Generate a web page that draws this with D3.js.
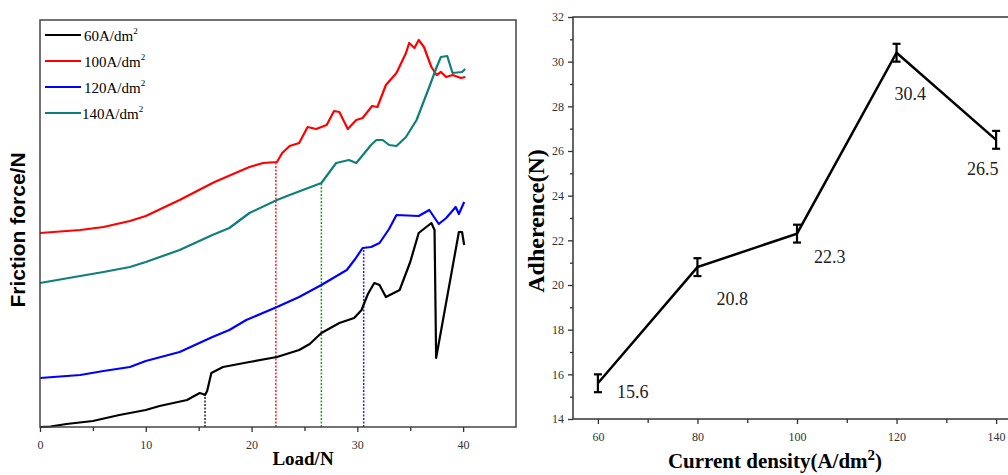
<!DOCTYPE html>
<html>
<head>
<meta charset="utf-8">
<script src="https://cdn.jsdelivr.net/npm/d3@7"></script>
<style>
  body { margin: 0; background: #fff; }
  svg { display: block; }
  .tick text { font-family: "Liberation Serif", "Times New Roman", serif; font-size: 12px; fill: #333; }
  .tick line { stroke: #333; stroke-width: 1.3; }
</style>
</head>
<body>
<svg id="chart" width="1008" height="475"></svg>
<script>
// friction curves: [load (N), friction force (arb.)]
const series60 = [[0,0],[1,0.05],[2.5,0.3],[5,0.6],[7.5,1.2],[10,1.7],[11.3,2.1],[13.9,2.7],[15.1,3.4],[15.4,3.3],[15.6,3.2],[15.8,3.6],[16.2,5.4],[17.3,6.0],[19.8,6.5],[22.4,7.0],[24.5,7.7],[25.5,8.3],[26.6,9.4],[28.3,10.4],[29.7,10.9],[30.4,11.7],[31.0,13.3],[31.6,14.4],[32.1,14.2],[32.7,13.0],[34.0,13.7],[35.0,16.5],[35.8,19.4],[37.0,20.4],[37.3,19.7],[37.45,6.9],[39.6,19.5],[39.9,19.5],[40.1,18.2]];
const series100 = [[0,19.4],[3.8,19.7],[6,20.0],[8.5,20.6],[10,21.1],[13.2,22.7],[16.5,24.5],[19.8,26.0],[21.1,26.4],[22.4,26.5],[22.9,27.4],[23.6,28.1],[24.5,28.4],[25.3,30.0],[26.1,29.8],[27.1,30.2],[27.8,31.6],[28.3,31.5],[29.1,29.8],[29.9,30.7],[30.5,30.9],[31.4,32.1],[31.9,32.0],[32.7,34.2],[33.7,35.4],[34.6,37.4],[34.9,38.4],[35.4,37.9],[35.8,38.7],[36.3,38.0],[37.0,36.0],[37.5,35.2],[37.9,35.5],[38.4,35.0],[39.0,35.2],[39.8,34.9],[40.2,35.0]];
const series120 = [[0,4.9],[3.8,5.2],[6,5.6],[8.5,6.0],[10,6.6],[13.2,7.5],[16.3,9.0],[17.9,9.7],[19.5,10.7],[22.4,12.0],[24.5,13.0],[26.6,14.2],[29.0,15.7],[29.8,16.8],[30.5,17.9],[31.3,18.0],[32.1,18.4],[33.0,19.8],[33.7,21.2],[35.8,21.1],[36.8,21.7],[37.7,20.3],[38.4,20.9],[39.3,22.0],[39.6,21.3],[40.1,22.5]];
const series140 = [[0,14.4],[3.8,15.1],[6,15.5],[8.5,16.0],[10,16.5],[13.2,17.7],[16.3,19.2],[17.9,19.9],[19.8,21.4],[22.4,22.7],[23.6,23.2],[26.6,24.4],[28.0,26.4],[29.2,26.7],[29.9,26.4],[31.3,28.2],[31.8,28.7],[32.4,28.7],[33.0,28.2],[33.7,28.1],[34.6,29.0],[35.6,30.7],[36.8,34.0],[37.5,36.0],[37.9,37.0],[38.5,37.1],[39.0,35.4],[39.9,35.5],[40.2,35.8]];

const legendNames = ['60A/dm', '100A/dm', '120A/dm', '140A/dm'];
const curveColors = ['#000000', '#ff0000', '#0000ff', '#0f7f7a'];

// critical loads marked by dotted lines (series index, load)
const critSeries = [0, 1, 3, 2];
const critLoads = [15.6, 22.3, 26.6, 30.6];
const critColors = ['#222222', '#ff2020', '#20a020', '#2020ff'];

// adherence vs current density
const densities = [60, 80, 100, 120, 140];
const adherence = [15.6, 20.8, 22.3, 30.4, 26.5];
const adhError = [0.4, 0.4, 0.4, 0.4, 0.4];
const loadTicks = [0, 10, 20, 30, 40];
const densTicks = [60, 80, 100, 120, 140];
const adhTicks = [14, 16, 18, 20, 22, 24, 26, 28, 30, 32];

const svg = d3.select('#chart');
const serif = '"Liberation Serif", "Times New Roman", serif';

// ---------- left panel ----------
const L = {left: 40, right: 516, top: 20, bottom: 427};
let x1 = d3.scaleLinear().domain([0, 45]).range([L.left, L.right]);
let y1 = d3.scaleLinear().domain([0, 40.7]).range([L.bottom, L.top]);

let allSeries = [series60, series100, series120, series140];

let line1 = d3.line()
  .x(function(d) {return x1(d[0]);})
  .y(function(d) {return y1(d[1]);});

// dotted critical-load lines
function valueAt(s, load) {
  for (let i = 1; i < s.length; i++) {
    if (s[i][0] >= load) {
      let t = (load - s[i-1][0]) / (s[i][0] - s[i-1][0]);
      return s[i-1][1] + t * (s[i][1] - s[i-1][1]);
    }
  }
  return s[s.length-1][1];
}
critLoads.forEach(function(ld, i) {
  svg.append('line')
    .attr('x1', x1(ld)).attr('x2', x1(ld))
    .attr('y1', y1(0))
    .attr('y2', y1(valueAt(allSeries[critSeries[i]], ld)))
    .attr('stroke', critColors[i])
    .attr('stroke-width', 1.5)
    .attr('stroke-dasharray', '2,1.5');
});

allSeries.forEach(function(s, i) {
  svg.append('path')
    .datum(s)
    .attr('fill', 'none')
    .attr('stroke', curveColors[i])
    .attr('stroke-width', 2.2)
    .attr('stroke-linejoin', 'round')
    .attr('d', line1);
});

// frame
svg.append('rect')
  .attr('x', L.left).attr('y', L.top)
  .attr('width', L.right - L.left).attr('height', L.bottom - L.top)
  .attr('fill', 'none').attr('stroke', '#444').attr('stroke-width', 1.5);

// x-axis
let ax1 = svg.append('g')
  .attr('transform', 'translate(0,' + L.bottom + ')')
  .call(d3.axisBottom(x1).tickValues(loadTicks).tickSize(5).tickPadding(8));
ax1.select('.domain').remove();
svg.append('g')
  .attr('transform', 'translate(0,' + L.bottom + ')')
  .call(d3.axisBottom(x1).tickValues([5, 15, 25, 35]).tickSize(4).tickFormat(''))
  .select('.domain').remove();

svg.append('text')
  .attr('x', 303).attr('y', 465)
  .attr('text-anchor', 'middle')
  .style('font-family', serif).style('font-weight', 'bold').style('font-size', '19px')
  .text('Load/N');

svg.append('text')
  .attr('transform', 'translate(25,230) rotate(-90)')
  .attr('text-anchor', 'middle')
  .style('font-family', '"Liberation Sans", Arial, sans-serif')
  .style('font-weight', 'bold').style('font-size', '21px')
  .text('Friction force/N');

// legend
let legend = svg.append('g').style('font-family', serif).style('font-size', '15px');
legendNames.forEach(function(name, i) {
  let ly = 35 + i * 26;
  legend.append('line')
    .attr('x1', 45).attr('x2', 81).attr('y1', ly).attr('y2', ly)
    .attr('stroke', curveColors[i]).attr('stroke-width', 2.2);
  let t = legend.append('text').attr('x', i === 3 ? 82 : 84).attr('y', ly + 6).text(name);
  t.append('tspan').attr('dy', -7).style('font-size', '9px').text('2');
});

// ---------- right panel ----------
const R = {left: 573, right: 1021, top: 17, bottom: 419};
let x2 = d3.scaleLinear().domain([55, 145]).range([R.left, R.right]);
let y2 = d3.scaleLinear().domain([14, 32]).range([R.bottom, R.top]);

svg.append('rect')
  .attr('x', R.left).attr('y', R.top)
  .attr('width', R.right - R.left).attr('height', R.bottom - R.top)
  .attr('fill', 'none').attr('stroke', '#333').attr('stroke-width', 1.5);

let ax2 = svg.append('g')
  .attr('transform', 'translate(0,' + R.bottom + ')')
  .call(d3.axisBottom(x2).tickValues(densTicks).tickSize(5).tickPadding(8));
ax2.select('.domain').remove();
svg.append('g')
  .attr('transform', 'translate(0,' + R.bottom + ')')
  .call(d3.axisBottom(x2).tickValues([70, 90, 110, 130]).tickSize(4).tickFormat(''))
  .select('.domain').remove();

let ay2 = svg.append('g')
  .attr('transform', 'translate(' + R.left + ',0)')
  .call(d3.axisLeft(y2).tickValues(adhTicks).tickSize(5).tickPadding(4));
ay2.select('.domain').remove();
svg.append('g')
  .attr('transform', 'translate(' + R.left + ',0)')
  .call(d3.axisLeft(y2).tickValues([15, 17, 19, 21, 23, 25, 27, 29, 31]).tickSize(3).tickFormat(''))
  .select('.domain').remove();

let pts = densities.map(function(d, i) {return [d, adherence[i], adhError[i]];});

svg.append('path')
  .datum(pts)
  .attr('fill', 'none')
  .attr('stroke', '#000')
  .attr('stroke-width', 2.5)
  .attr('d', d3.line()
    .x(function(d) {return x2(d[0]);})
    .y(function(d) {return y2(d[1]);}));

// error bars
let eb = svg.append('g').attr('stroke', '#000').attr('stroke-width', 2.2);
pts.forEach(function(p) {
  let cx = x2(p[0]);
  eb.append('line').attr('x1', cx).attr('x2', cx)
    .attr('y1', y2(p[1] - p[2])).attr('y2', y2(p[1] + p[2]));
  [p[1] - p[2], p[1] + p[2]].forEach(function(v) {
    eb.append('line').attr('x1', cx - 4).attr('x2', cx + 4)
      .attr('y1', y2(v)).attr('y2', y2(v));
  });
});

// value labels
const labelDx = [19, 19, 17, -2, -29];
const labelDy = [15, 38, 29, 47, 35];
pts.forEach(function(p, i) {
  svg.append('text')
    .attr('x', x2(p[0]) + labelDx[i])
    .attr('y', y2(p[1]) + labelDy[i])
    .style('font-family', serif).style('font-size', '18px').style('fill', '#222')
    .text(p[1].toFixed(1));
});

svg.append('text')
  .attr('transform', 'translate(544,221) rotate(-90)')
  .attr('text-anchor', 'middle')
  .style('font-family', serif).style('font-weight', 'bold').style('font-size', '24px')
  .text('Adherence(N)');

let xl = svg.append('text')
  .attr('x', 775).attr('y', 468)
  .attr('text-anchor', 'middle')
  .style('font-family', serif).style('font-weight', 'bold').style('font-size', '21px')
  .text('Current density(A/dm');
xl.append('tspan').attr('dy', -8).style('font-size', '15px').text('2');
xl.append('tspan').attr('dy', 8).text(')');
</script>
</body>
</html>
